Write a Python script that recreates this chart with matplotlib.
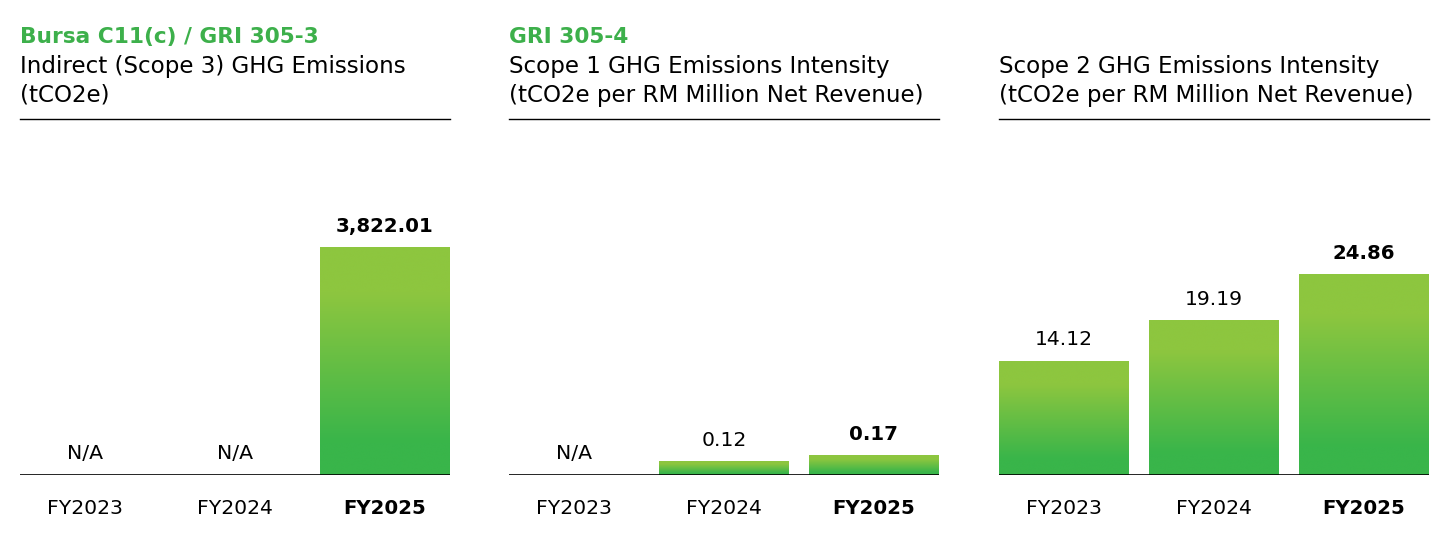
import numpy as np
import matplotlib.pyplot as plt
from matplotlib.colors import LinearSegmentedColormap

# chart data
years = ["FY2023", "FY2024", "FY2025"]
scope3 = [None, None, 3822.01]
scope1_intensity = [None, 0.12, 0.17]
scope2_intensity = [14.12, 19.19, 24.86]

headers = ["Bursa C11(c) / GRI 305-3", "GRI 305-4", ""]
titles = [
    ["Indirect (Scope 3) GHG Emissions", "(tCO2e)"],
    ["Scope 1 GHG Emissions Intensity", "(tCO2e per RM Million Net Revenue)"],
    ["Scope 2 GHG Emissions Intensity", "(tCO2e per RM Million Net Revenue)"],
]
value_fmt = ["{:,.2f}", "{:.2f}", "{:.2f}"]
ylims = [5808, 3.08, 42.86]

GREEN = '#3DB04B'
LIGHT = '#8DC63F'
DARK = '#39B54A'
cmap = LinearSegmentedColormap.from_list(
    'bar', [(0, DARK), (0.15, DARK), (0.8, LIGHT), (1, LIGHT)])

plt.rcParams['font.family'] = ['DejaVu Sans']

W, H = 1456, 540
fig = plt.figure(figsize=(W / 100, H / 100), dpi=100)

lefts = [20, 509, 999]
panel_w = 430
base_y = 475
top_y = 130

grad = np.linspace(0, 1, 256).reshape(-1, 1)

for k, vals in enumerate([scope3, scope1_intensity, scope2_intensity]):
    ax = fig.add_axes([lefts[k] / W, 1 - base_y / H, panel_w / W, (base_y - top_y) / H])
    x = np.arange(len(years))
    heights = [v if v is not None else 0 for v in vals]
    bars = ax.bar(x, heights, width=130 / 150, align='edge', color='none', zorder=2)
    for b, v in zip(bars, vals):
        if v is None:
            continue
        bx, bw, bh = b.get_x(), b.get_width(), b.get_height()
        ax.imshow(grad, extent=[bx, bx + bw, -bh * 0.008, bh], origin='lower',
                  aspect='auto', cmap=cmap, zorder=2, interpolation='bicubic')
    ax.set_xlim(0, panel_w / 150)
    ax.set_ylim(0, ylims[k])
    ax.axhline(0, color='black', lw=1.2, zorder=3)
    for s in ax.spines.values():
        s.set_visible(False)
    ax.set_yticks([])
    centers = [b.get_x() + b.get_width() / 2 for b in bars]
    ax.set_xticks(centers)
    ax.set_xticklabels(years, fontsize=14.7)
    ax.tick_params(axis='x', length=0, pad=17)
    ax.get_xticklabels()[-1].set_fontweight('bold')
    ax.get_xticklabels()[-1].set_fontsize(14.2)

    for i, (c, v) in enumerate(zip(centers, vals)):
        bold = i == len(vals) - 1
        if v is None:
            txt, h = "N/A", 0
        else:
            txt, h = value_fmt[k].format(v), v
        ax.annotate(txt, xy=(c, h), xytext=(0, 11.5), textcoords='offset points',
                    ha='center', va='baseline', fontsize=14.2 if bold else 14.7,
                    fontweight='bold' if bold else 'normal', zorder=4)

    # title block
    x0 = lefts[k] / W
    if headers[k]:
        fig.text(x0, 1 - 43 / H, headers[k], color=GREEN, fontsize=15.6,
                 fontweight='bold', va='baseline', ha='left')
    fig.text(x0, 1 - 73 / H, titles[k][0], fontsize=16.6, va='baseline', ha='left')
    fig.text(x0, 1 - 102 / H, titles[k][1], fontsize=16.6, va='baseline', ha='left')
    fig.add_artist(plt.Line2D([x0, (lefts[k] + panel_w) / W], [1 - 119 / H, 1 - 119 / H],
                              color='black', lw=1.0))

fig.savefig('out.png', dpi=100, facecolor='white')
